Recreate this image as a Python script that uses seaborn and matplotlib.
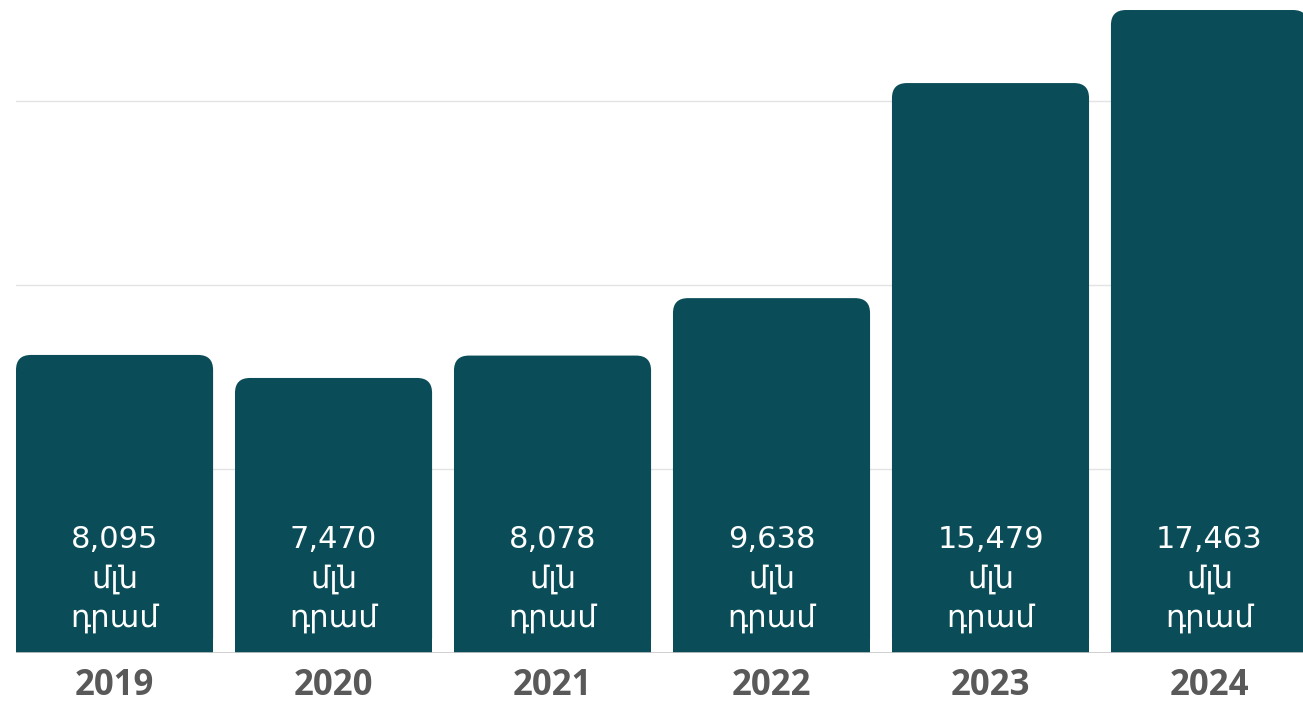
import matplotlib
matplotlib.use("Agg")
import matplotlib.pyplot as plt
from matplotlib.patches import FancyBboxPatch, Rectangle
import seaborn as sns
import pandas as pd

# data
years = ["2019", "2020", "2021", "2022", "2023", "2024"]
values = [8095, 7470, 8078, 9638, 15479, 17463]
unit_label = "մլն\nդրամ"

bar_color = "#0a4d58"

df = pd.DataFrame({"year": years, "value": values})

sns.set_theme(style="white")
plt.rcParams["font.family"] = ["DejaVu Sans"]

fig = plt.figure(figsize=(13.03, 7.05), dpi=100)
ax = fig.add_axes([16 / 1303, 52 / 705, 1287 / 1303, 653 / 705])

sns.barplot(data=df, x="year", y="value", color=bar_color, width=0.9,
            saturation=1, ax=ax)

ax.set_xlim(-0.45, 5.427)
ax.set_ylim(0, 17735)

# rounded tops: replace each seaborn bar with a rounded box + square base
x_per_px = (5.427 + 0.45) / 1287
y_per_px = 17735 / 653
r_px = 15
for p in list(ax.patches):
    x0, w, h = p.get_x(), p.get_width(), p.get_height()
    p.set_visible(False)
    rb = FancyBboxPatch((x0, 0), w, h,
                        boxstyle=f"round,pad=0,rounding_size={r_px * x_per_px}",
                        mutation_aspect=y_per_px / x_per_px,
                        facecolor=bar_color, edgecolor="none", zorder=2)
    ax.add_patch(rb)
    ax.add_patch(Rectangle((x0, 0), w, h - r_px * y_per_px * 1.5,
                           facecolor=bar_color, edgecolor="none", zorder=2))

# value labels inside bars
trans = ax.get_xaxis_transform()
for i, v in enumerate(values):
    ax.text(i, 0.113, f"{v:,}\n{unit_label}", transform=trans,
            ha="center", va="center", multialignment="center",
            color="white", fontsize=22, linespacing=1.42, zorder=3)

# grid and baseline
for gy in [5000, 10000, 15000]:
    ax.axhline(gy, color="#e3e3e3", lw=1, zorder=1)
ax.axhline(0, color="#c8c8c8", lw=1.2, zorder=3)

for s in ax.spines.values():
    s.set_visible(False)
ax.set_yticks([])
ax.set_xlabel("")
ax.set_ylabel("")
ax.tick_params(axis="x", length=0, pad=11)
for lab in ax.get_xticklabels():
    lab.set_fontfamily(["Open Sans", "DejaVu Sans"])
    lab.set_fontweight("bold")
    lab.set_fontsize(25)
    lab.set_color("#595959")

fig.savefig("out.png", dpi=100)
